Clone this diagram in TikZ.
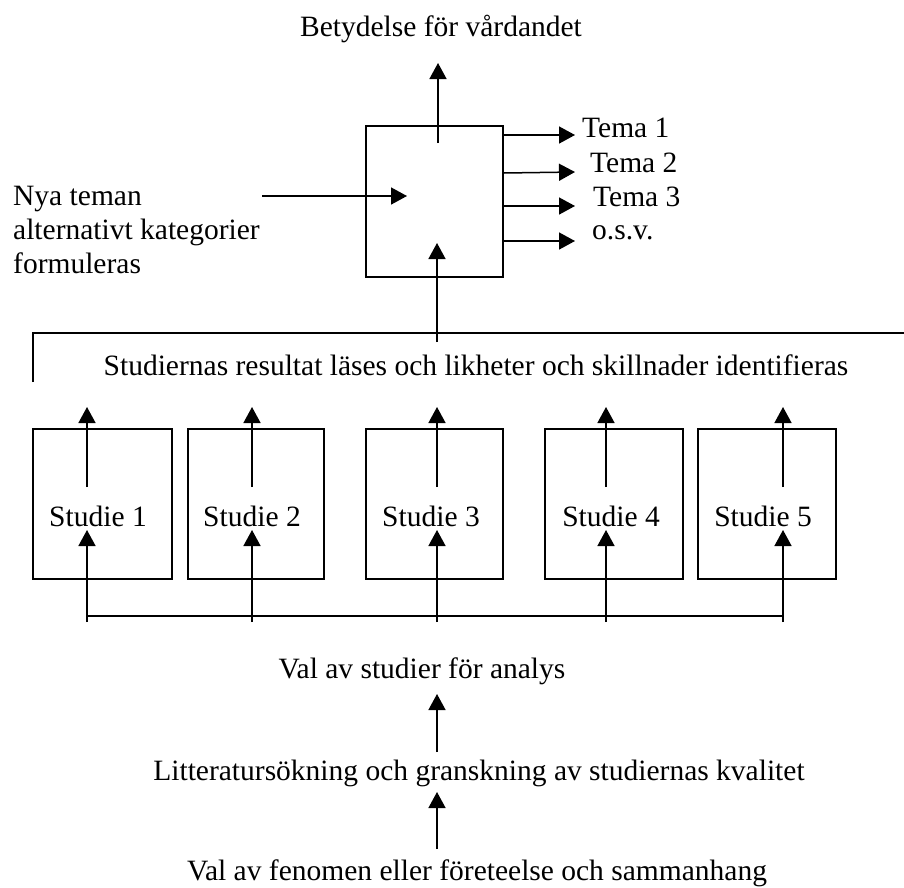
\documentclass[tikz,border=0pt]{standalone}
\usepackage{fontspec}
\setmainfont{Liberation Serif}
\usetikzlibrary{arrows.meta}
\tikzset{
  lbl/.style={inner sep=0pt, font=\fontsize{29.5}{34}\selectfont},
  boxnode/.style={draw, line width=1.5pt, inner sep=0pt},
  arr/.style={line width=1.5pt, -{Triangle[length=16pt,width=17pt]}},
  ln/.style={line width=1.5pt}
}
\begin{document}
\begin{tikzpicture}[x=1pt,y=-1pt]
\useasboundingbox (0,0) rectangle (904,887);
% labels
\node[lbl, anchor=base] (title) at (441,36) {Betydelse för vårdandet};
\node[lbl, anchor=base west, align=left] (nya) at (13,273) {Nya teman\\alternativt kategorier\\formuleras};
\node[lbl, anchor=base west] (t1) at (582,137) {Tema 1};
\node[lbl, anchor=base west] (t2) at (590,172) {Tema 2};
\node[lbl, anchor=base west] (t3) at (593,206) {Tema 3};
\node[lbl, anchor=base west] (t4) at (592,239) {o.s.v.};
\node[lbl, anchor=base] (stud) at (476,375) {Studiernas resultat läses och likheter och skillnader identifieras};
\node[lbl, anchor=base] (val) at (422,678) {Val av studier för analys};
\node[lbl, anchor=base] (litt) at (479,780) {Litteratursökning och granskning av studiernas kvalitet};
\node[lbl, anchor=base] (fen) at (477,880) {Val av fenomen eller företeelse och sammanhang};
% main box
\node[boxnode, minimum width=137pt, minimum height=151pt] (main) at (434.5,201.5) {};
% study boxes
\node[boxnode, minimum width=139pt, minimum height=150pt] (s1) at (102.5,504) {};
\node[boxnode, minimum width=136pt, minimum height=150pt] (s2) at (256,504) {};
\node[boxnode, minimum width=137pt, minimum height=150pt] (s3) at (434.5,504) {};
\node[boxnode, minimum width=138pt, minimum height=150pt] (s4) at (614,504) {};
\node[boxnode, minimum width=138pt, minimum height=150pt] (s5) at (767,504) {};
\node[lbl, anchor=base] (st1) at (98,526) {Studie 1};
\node[lbl, anchor=base] (st2) at (252,526) {Studie 2};
\node[lbl, anchor=base] (st3) at (431,526) {Studie 3};
\node[lbl, anchor=base] (st4) at (611,526) {Studie 4};
\node[lbl, anchor=base] (st5) at (763,526) {Studie 5};
% coordinates
\coordinate (topA) at (438,143);
\coordinate (topB) at (438,63);
\coordinate (inA) at (262,196);
\coordinate (inB) at (407,196);
\coordinate (upA) at (437,342);
\coordinate (upB) at (437,243);
\coordinate (brL) at (33,382);
\coordinate (brLT) at (33,333);
\coordinate (brR) at (904,333);
\coordinate (bbL) at (87,616);
\coordinate (bbR) at (784,616);
% top arrows
\draw[arr] (topA) -- (topB);
\draw[arr] (inA) -- (inB);
\draw[arr] (main.east |- 0,135) -- (575,135);
\draw[arr] (main.east |- 0,173) -- (575,172);
\draw[arr] (main.east |- 0,206) -- (575,206);
\draw[arr] (main.east |- 0,241) -- (575,241);
% bracket
\draw[ln] (brL) -- (brLT) -- (brR);
\draw[arr] (upA) -- (upB);
% study arrows
\foreach \x in {87,252,437,606,783}{
  \draw[arr] (\x,487) -- (\x,407);
  \draw[arr] (\x,622) -- (\x,530);
}
\draw[ln] (bbL) -- (bbR);
% bottom arrows
\draw[arr] (437,752) -- (437,694);
\draw[arr] (437,849) -- (437,792);
\end{tikzpicture}
\end{document}
